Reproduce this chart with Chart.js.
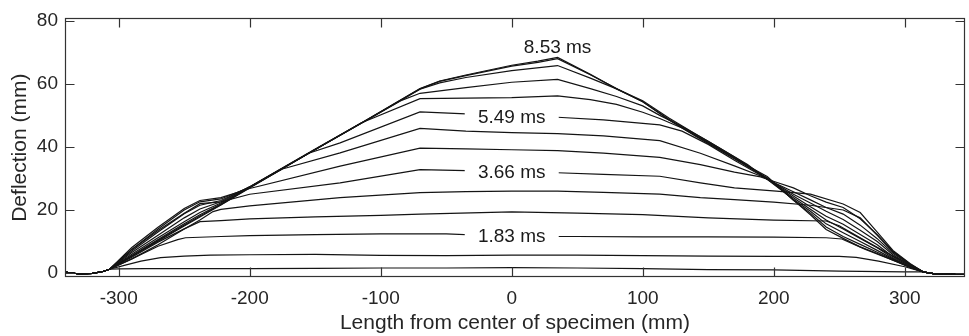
<!DOCTYPE html>
<html>
<head>
<meta charset="utf-8">
<title>Deflection profiles</title>
<script src="https://cdn.jsdelivr.net/npm/chart.js@4.4.0/dist/chart.umd.min.js"></script>
<style>
  html, body { margin: 0; padding: 0; background: #fff; }
  #wrap { width: 969px; height: 336px; }
</style>
</head>
<body>
<div id="wrap"><canvas id="deflectionChart" width="969" height="336"></canvas></div>
<script>
  // time of each deflection profile
  const times = ['0.61 ms', '1.22 ms', '1.83 ms', '2.44 ms', '3.05 ms', '3.66 ms', '4.27 ms',
                 '4.88 ms', '5.49 ms', '6.10 ms', '6.71 ms', '7.32 ms', '7.93 ms', '8.53 ms'];

  // [position (mm), deflection (mm)] - supports are shared by every profile
  const footLeft = [[-341, 0.3], [-330, -0.3], [-320, -0.1], [-312, 0.5], [-307, 1.2]];
  const footRight = [[314, 0.4], [319, 0.0], [322, -0.2], [335, -0.3], [346, -0.2]];

  const t061 = [[-300, 1.3], [-280, 1.4], [-250, 1.4], [-200, 1.4], [-150, 1.5], [-100, 1.6], [-50, 1.6],
                [0, 1.7], [50, 1.6], [100, 1.4], [150, 1.1], [200, 1.0], [250, 0.6], [300, 0.4]];
  const t122 = [[-295, 2.5], [-283, 3.8], [-268, 4.9], [-250, 5.4], [-230, 5.7], [-200, 5.8], [-150, 5.9],
                [-100, 5.6], [-50, 5.5], [0, 5.7], [50, 5.7], [100, 5.5], [150, 5.4], [200, 5.3], [250, 5.3],
                [263, 5.0], [280, 3.8], [300, 2.0]];
  const t183 = [[-290, 4.5], [-270, 8.5], [-255, 10.6], [-249, 11.2], [-222, 11.6], [-200, 11.9], [-150, 12.2],
                [-100, 12.4], [-50, 12.4], [0, 11.6], [50, 11.6], [100, 11.5], [150, 11.5], [200, 11.4],
                [240, 11.2], [252, 10.8], [270, 7.5], [290, 4.2]];
  const t244 = [[-290, 5.0], [-270, 9.8], [-250, 14.0], [-238, 16.3], [-222, 16.6], [-200, 17.2], [-150, 17.8],
                [-100, 18.3], [-70, 18.7], [0, 19.4], [50, 19.0], [100, 18.5], [150, 17.5], [200, 16.8],
                [240, 16.5], [250, 15.0], [270, 10.2], [290, 5.6]];
  const t305 = [[-290, 4.5], [-270, 9.0], [-250, 14.0], [-238, 16.8], [-228, 19.5], [-222, 20.2], [-200, 21.3],
                [-131, 23.9], [-70, 25.5], [-35, 25.8], [0, 26.0], [35, 26.0], [70, 25.6], [113, 25.0],
                [144, 23.9], [170, 23.3], [200, 22.5], [228, 21.5], [253, 20.0], [266, 17.5], [279, 12.0],
                [291, 6.7], [304, 2.8]];
  const t366 = [[-290, 7.5], [-270, 13.5], [-250, 19.0], [-238, 22.0], [-222, 22.6], [-200, 25.0], [-131, 28.6],
                [-70, 32.8], [-35, 32.5], [0, 32.0], [35, 31.8], [70, 31.3], [113, 30.7], [144, 28.6],
                [170, 27.0], [202, 26.0], [228, 25.0], [253, 21.9], [266, 19.2], [279, 13.0], [291, 7.2],
                [304, 3.0]];
  const t427 = [[-290, 8.1], [-270, 14.5], [-250, 20.5], [-238, 23.0], [-222, 23.9], [-200, 26.8], [-131, 33.9],
                [-70, 39.6], [-35, 39.4], [0, 39.1], [35, 38.8], [70, 38.0], [113, 36.7], [144, 34.4],
                [170, 32.0], [190, 30.5], [202, 28.8], [215, 27.0], [228, 24.5], [240, 22.5], [253, 20.8],
                [266, 17.2], [279, 12.2], [291, 6.9], [304, 2.9]];
  const t488 = [[-290, 7.5], [-270, 14.0], [-250, 20.0], [-238, 22.6], [-222, 23.5], [-200, 27.2], [-175, 33.0],
                [-131, 38.1], [-70, 45.9], [-35, 45.0], [0, 44.5], [35, 44.2], [70, 43.5], [113, 42.0],
                [144, 38.0], [170, 34.0], [190, 30.8], [202, 28.3], [215, 25.8], [228, 23.2], [240, 20.8],
                [253, 18.7], [266, 15.2], [279, 10.9], [291, 6.3], [304, 2.6]];
  const t549 = [[-290, 7.0], [-270, 13.0], [-250, 18.8], [-238, 21.5], [-222, 23.0], [-200, 27.3], [-155, 38.0],
                [-131, 41.3], [-70, 51.1], [-35, 50.5], [0, 49.6], [35, 49.4], [70, 48.6], [113, 47.0],
                [130, 45.0], [150, 40.8], [170, 35.8], [190, 31.0], [202, 28.2], [215, 25.0], [228, 22.2],
                [240, 19.6], [253, 17.0], [266, 13.6], [279, 10.0], [291, 5.8], [304, 2.4]];
  const t610 = [[-290, 6.5], [-270, 12.0], [-250, 17.5], [-238, 20.3], [-222, 22.6], [-200, 27.4], [-150, 39.3],
                [-115, 47.6], [-70, 55.3], [-35, 55.5], [0, 55.6], [35, 56.2], [60, 55.0], [80, 53.5],
                [100, 51.0], [113, 49.0], [130, 46.0], [150, 41.5], [170, 36.5], [190, 31.2], [202, 27.9],
                [215, 24.4], [228, 21.0], [240, 18.0], [253, 15.5], [266, 12.2], [279, 9.0], [291, 5.2],
                [304, 2.2]];
  const t671 = [[-290, 6.0], [-270, 11.2], [-250, 16.3], [-238, 19.2], [-222, 22.2], [-200, 27.3], [-150, 39.2],
                [-110, 48.6], [-85, 54.6], [-70, 57.0], [-35, 58.8], [0, 60.5], [35, 61.4], [60, 58.5],
                [80, 56.0], [100, 53.0], [113, 50.0], [130, 46.5], [150, 41.8], [170, 36.8], [190, 31.4],
                [202, 27.7], [215, 23.9], [228, 20.2], [240, 16.8], [253, 14.0], [266, 11.0], [279, 8.0],
                [291, 4.8], [304, 2.0]];
  const t732 = [[-290, 5.6], [-270, 10.6], [-250, 15.6], [-238, 18.5], [-222, 21.9], [-200, 27.2], [-150, 39.2],
                [-110, 48.7], [-70, 58.3], [-55, 60.3], [-35, 62.0], [0, 64.2], [35, 65.8], [60, 61.8],
                [80, 58.4], [100, 54.6], [120, 49.2], [140, 44.2], [160, 39.3], [180, 34.4], [202, 27.5],
                [215, 23.4], [228, 19.6], [240, 15.6], [253, 12.8], [266, 10.0], [279, 7.2], [291, 4.5],
                [304, 1.9]];
  const t793 = [[-290, 5.4], [-270, 10.3], [-250, 15.2], [-238, 18.1], [-222, 21.7], [-200, 27.1], [-150, 39.2],
                [-110, 48.7], [-70, 58.4], [-55, 60.8], [-35, 62.6], [0, 65.6], [20, 66.8], [35, 68.0],
                [60, 62.9], [80, 58.5], [100, 54.3], [120, 48.8], [140, 43.8], [160, 38.9], [180, 34.0],
                [195, 30.6], [202, 28.0], [215, 23.1], [228, 19.0], [240, 14.6], [253, 11.6], [266, 9.1],
                [279, 6.6], [291, 4.3], [304, 1.8]];
  const t853 = [[-290, 5.3], [-270, 10.1], [-250, 14.9], [-238, 17.8], [-222, 21.6], [-200, 27.0], [-150, 39.2],
                [-110, 48.8], [-70, 58.5], [-55, 60.9], [-35, 62.8], [0, 65.9], [20, 67.2], [35, 68.4],
                [60, 63.0], [80, 58.4], [100, 54.3], [120, 48.5], [140, 43.5], [160, 38.6], [180, 33.8],
                [195, 30.2], [210, 25.0], [228, 18.5], [240, 13.8], [253, 11.0], [266, 8.3], [279, 6.2],
                [291, 4.1], [304, 1.8]];

  const profiles = [t061, t122, t183, t244, t305, t366, t427, t488, t549, t610, t671, t732, t793, t853];

  const xTicks = [-300, -200, -100, 0, 100, 200, 300];
  const yTicks = [0, 20, 40, 60, 80];

  // in-plot time labels
  const tagText = ['1.83 ms', '3.66 ms', '5.49 ms', '8.53 ms'];
  const tagX = [0, 0, 0, 35];
  const tagY = [11.4, 31.7, 49.4, 71.4];
  const tagGap = [true, true, true, false];

  const ink = '#262626';
  const fontFamily = '"Liberation Sans", Arial, Helvetica, sans-serif';

  const datasets = profiles.map((pts, i) => ({
    label: times[i],
    data: footLeft.concat(pts, footRight).map(([x, y]) => ({ x, y })),
    borderColor: '#141414',
    borderWidth: 1.2,
    pointRadius: 0,
    tension: 0,
    fill: false
  }));

  // time labels over the curves, then the axes box with inward ticks on all four sides
  const axesBox = {
    id: 'axesBox',
    afterDraw(chart) {
      const ctx = chart.ctx;
      const a = chart.chartArea;
      const xs = chart.scales.x, ys = chart.scales.y;

      ctx.save();
      ctx.font = '19px ' + fontFamily;
      ctx.textAlign = 'center';
      ctx.textBaseline = 'middle';
      tagText.forEach((t, i) => {
        const px = xs.getPixelForValue(tagX[i]);
        const py = ys.getPixelForValue(tagY[i]);
        if (tagGap[i]) {
          ctx.fillStyle = '#ffffff';
          ctx.fillRect(px - 47, py - 6, 94, 12);
        }
        ctx.fillStyle = '#1a1a1a';
        ctx.fillText(t, px, py);
      });

      const x0 = Math.round(a.left) + 0.5, x1 = Math.round(a.right) - 0.5;
      const y0 = Math.round(a.top) + 0.5, y1 = Math.round(a.bottom) - 0.5;
      ctx.strokeStyle = '#333333';
      ctx.lineWidth = 1.2;
      ctx.strokeRect(x0, y0, x1 - x0, y1 - y0);
      ctx.beginPath();
      xTicks.forEach(v => {
        const px = Math.round(xs.getPixelForValue(v)) + 0.5;
        ctx.moveTo(px, y1); ctx.lineTo(px, y1 - 9);
        ctx.moveTo(px, y0); ctx.lineTo(px, y0 + 9);
      });
      yTicks.forEach(v => {
        const py = Math.round(ys.getPixelForValue(v)) + 0.5;
        ctx.moveTo(x0, py); ctx.lineTo(x0 + 9, py);
        ctx.moveTo(x1, py); ctx.lineTo(x1 - 9, py);
      });
      ctx.stroke();
      ctx.restore();
    }
  };

  new Chart(document.getElementById('deflectionChart'), {
    type: 'line',
    data: { datasets },
    options: {
      responsive: false,
      animation: false,
      layout: { padding: { top: 16, right: 4, left: 0, bottom: 0 } },
      plugins: {
        legend: { display: false },
        tooltip: { enabled: false }
      },
      scales: {
        x: {
          type: 'linear',
          min: -341,
          max: 346,
          afterBuildTicks: s => { s.ticks = xTicks.map(v => ({ value: v })); },
          afterFit: s => { s.height = 59; },
          grid: { display: false, drawTicks: false },
          border: { display: false },
          ticks: { color: ink, padding: 10, font: { family: fontFamily, size: 19 } },
          title: {
            display: true,
            text: 'Length from center of specimen (mm)',
            color: ink,
            padding: 0,
            font: { family: fontFamily, size: 21 }
          }
        },
        y: {
          min: -1.25,
          max: 80.75,
          afterBuildTicks: s => { s.ticks = yTicks.map(v => ({ value: v })); },
          afterFit: s => { s.width = 65; },
          grid: { display: false, drawTicks: false },
          border: { display: false },
          ticks: { color: ink, padding: 7, font: { family: fontFamily, size: 19 } },
          title: {
            display: true,
            text: 'Deflection (mm)',
            color: ink,
            padding: { top: 8, bottom: 0 },
            font: { family: fontFamily, size: 21 }
          }
        }
      }
    },
    plugins: [axesBox]
  });
</script>
</body>
</html>
